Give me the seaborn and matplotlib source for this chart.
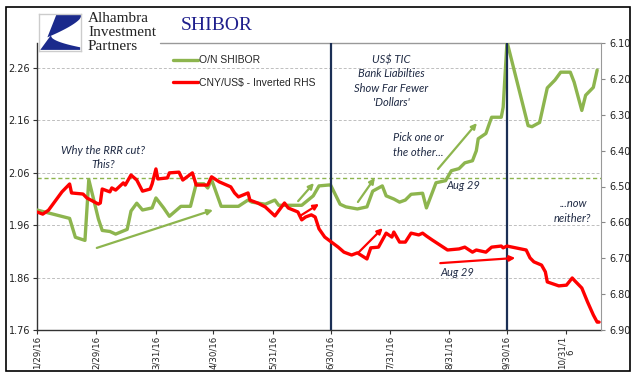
import matplotlib
matplotlib.use("Agg")
import matplotlib.pyplot as plt
import matplotlib.patches as mpatches
from matplotlib.lines import Line2D
import numpy as np
import pandas as pd
import seaborn as sns

# ──────────────────────────────────────────────
# Data
# ──────────────────────────────────────────────
shibor_dates = [
    "2016-01-29", "2016-02-15", "2016-02-18", "2016-02-23", "2016-02-25", "2016-03-01",
    "2016-03-03", "2016-03-07", "2016-03-10", "2016-03-16", "2016-03-18", "2016-03-21",
    "2016-03-24", "2016-03-29", "2016-03-31", "2016-04-04", "2016-04-07", "2016-04-13",
    "2016-04-18", "2016-04-21", "2016-04-25", "2016-04-27", "2016-04-29", "2016-05-04",
    "2016-05-13", "2016-05-18", "2016-05-20", "2016-05-27", "2016-06-01", "2016-06-03",
    "2016-06-15", "2016-06-21", "2016-06-24", "2016-06-30", "2016-07-05", "2016-07-08",
    "2016-07-14", "2016-07-19", "2016-07-22", "2016-07-27", "2016-07-29", "2016-08-02",
    "2016-08-05", "2016-08-08", "2016-08-11", "2016-08-17", "2016-08-19", "2016-08-24",
    "2016-08-29", "2016-09-01", "2016-09-05", "2016-09-08", "2016-09-12", "2016-09-14",
    "2016-09-15", "2016-09-19", "2016-09-21", "2016-09-22", "2016-09-27", "2016-09-28",
    "2016-09-30", "2016-10-11", "2016-10-13", "2016-10-17", "2016-10-21", "2016-10-25",
    "2016-10-28", "2016-11-02", "2016-11-04", "2016-11-08", "2016-11-10", "2016-11-14",
    "2016-11-16",
]
shibor_values = [
    1.989, 1.973, 1.937, 1.931, 2.047, 1.972,
    1.950, 1.948, 1.943, 1.952, 1.987, 2.002,
    1.989, 1.993, 2.012, 1.993, 1.977, 1.996,
    1.996, 2.039, 2.039, 2.031, 2.047, 1.996,
    1.996, 2.008, 2.004, 2.000, 2.008, 1.998,
    1.998, 2.016, 2.035, 2.037, 2.000, 1.995,
    1.991, 1.995, 2.025, 2.035, 2.016, 2.010,
    2.004, 2.008, 2.019, 2.021, 1.993, 2.041,
    2.045, 2.064, 2.068, 2.079, 2.083, 2.102,
    2.125, 2.135, 2.156, 2.166, 2.166, 2.185,
    2.310, 2.150, 2.148, 2.156, 2.222, 2.237,
    2.252, 2.252, 2.233, 2.179, 2.208, 2.223,
    2.256,
]

cny_dates = [
    "2016-01-29", "2016-02-01", "2016-02-04", "2016-02-11", "2016-02-15", "2016-02-16",
    "2016-02-22", "2016-02-24", "2016-03-01", "2016-03-02", "2016-03-03", "2016-03-07",
    "2016-03-08", "2016-03-10", "2016-03-14", "2016-03-15", "2016-03-18", "2016-03-21",
    "2016-03-24", "2016-03-28", "2016-03-29", "2016-03-31", "2016-04-01", "2016-04-06",
    "2016-04-07", "2016-04-12", "2016-04-14", "2016-04-19", "2016-04-21", "2016-04-27",
    "2016-04-29", "2016-05-03", "2016-05-09", "2016-05-11", "2016-05-13", "2016-05-18",
    "2016-05-19", "2016-05-23", "2016-05-27", "2016-06-01", "2016-06-06", "2016-06-08",
    "2016-06-13", "2016-06-15", "2016-06-17", "2016-06-20", "2016-06-22", "2016-06-24",
    "2016-06-27", "2016-06-29", "2016-07-01", "2016-07-04", "2016-07-07", "2016-07-11",
    "2016-07-14", "2016-07-19", "2016-07-21", "2016-07-25", "2016-07-29", "2016-08-01",
    "2016-08-02", "2016-08-05", "2016-08-08", "2016-08-11", "2016-08-15", "2016-08-17",
    "2016-08-19", "2016-08-22", "2016-08-26", "2016-08-30", "2016-09-05", "2016-09-08",
    "2016-09-12", "2016-09-14", "2016-09-19", "2016-09-22", "2016-09-27", "2016-09-28",
    "2016-09-30", "2016-10-10", "2016-10-12", "2016-10-14", "2016-10-18", "2016-10-20",
    "2016-10-21", "2016-10-27", "2016-10-31", "2016-11-03", "2016-11-04", "2016-11-08",
    "2016-11-11", "2016-11-14", "2016-11-16", "2016-11-17",
]
cny_values = [
    6.571, 6.577, 6.566, 6.515, 6.493, 6.518,
    6.521, 6.532, 6.549, 6.546, 6.507, 6.515,
    6.504, 6.510, 6.490, 6.496, 6.468, 6.482,
    6.513, 6.507, 6.493, 6.451, 6.479, 6.476,
    6.462, 6.460, 6.482, 6.462, 6.496, 6.496,
    6.473, 6.487, 6.501, 6.518, 6.529, 6.518,
    6.538, 6.546, 6.557, 6.582, 6.546, 6.560,
    6.571, 6.593, 6.585, 6.579, 6.585, 6.618,
    6.641, 6.649, 6.657, 6.669, 6.683, 6.691,
    6.685, 6.702, 6.671, 6.669, 6.630, 6.641,
    6.627, 6.655, 6.655, 6.630, 6.635, 6.630,
    6.638, 6.649, 6.663, 6.677, 6.674, 6.669,
    6.683, 6.677, 6.683, 6.669, 6.666, 6.671,
    6.666, 6.677, 6.699, 6.710, 6.719, 6.738,
    6.766, 6.777, 6.775, 6.755, 6.761, 6.783,
    6.822, 6.858, 6.878, 6.878,
]

tick_dates = ["2016-01-29", "2016-02-29", "2016-03-31", "2016-04-30", "2016-05-31",
              "2016-06-30", "2016-07-31", "2016-08-31", "2016-09-30", "2016-10-31"]
tick_labels = ["1/29/16", "2/29/16", "3/31/16", "4/30/16", "5/31/16",
               "6/30/16", "7/31/16", "8/31/16", "9/30/16", "10/31/1\n6"]
left_ticks = [1.76, 1.86, 1.96, 2.06, 2.16, 2.26]
right_ticks = [6.10, 6.20, 6.30, 6.40, 6.50, 6.60, 6.70, 6.80, 6.90]
event_dates = ["2016-06-30", "2016-09-30"]
rrr_level = 2.05

GREEN = "#8DB54E"
RED = "#FF0000"
NAVY = "#1B2F55"
TEXT = "#1F2A44"
LOGO_BLUE = "#1B2A8C"

shibor = pd.DataFrame({"date": pd.to_datetime(shibor_dates), "value": shibor_values})
cny = pd.DataFrame({"date": pd.to_datetime(cny_dates), "value": cny_values})

# ──────────────────────────────────────────────
# Figure
# ──────────────────────────────────────────────
sns.set_theme(style="white")
plt.rcParams["font.family"] = ["DejaVu Sans"]

fig = plt.figure(figsize=(6.4, 3.82), dpi=100)
ax = fig.add_axes([37 / 640, 1 - 330 / 382, 564 / 640, 287 / 382])
ax2 = ax.twinx()

ax.set_xlim(pd.Timestamp("2016-01-29"), pd.Timestamp("2016-11-18"))
ax.set_ylim(1.76, 2.3077)
ax2.set_ylim(6.90, 6.10)

for t in left_ticks[1:]:
    ax.axhline(t, color="#BFBFBF", lw=0.7, ls=(0, (3, 2)), zorder=0)
ax.axhline(rrr_level, color=GREEN, lw=1.0, ls=(0, (3, 2)), zorder=1)

sns.lineplot(data=shibor, x="date", y="value", ax=ax, color=GREEN, lw=2.4, zorder=3)
sns.lineplot(data=cny, x="date", y="value", ax=ax2, color=RED, lw=2.4, zorder=3)

for d in event_dates:
    ax.axvline(pd.Timestamp(d), color=NAVY, lw=1.6, zorder=4)

ax.set_xticks(pd.to_datetime(tick_dates))
ax.set_xticklabels(tick_labels, rotation=90, va="top", ha="center", fontsize=6.2,
                   color="#222222", linespacing=0.9)
ax.set_yticks(left_ticks)
ax.set_yticklabels([f"{v:.2f}" for v in left_ticks], fontsize=7, color="#222222")
ax2.set_yticks(right_ticks)
ax2.set_yticklabels([f"{v:.2f}" for v in right_ticks], fontsize=7, color="#222222")
ax.set_xlabel("")
ax.set_ylabel("")
ax2.set_ylabel("")

ax.tick_params(axis="y", direction="out", length=3, width=0.8, color="#333333", pad=2, left=True)
ax.tick_params(axis="x", direction="out", length=3, width=0.8, color="#333333", pad=1, bottom=True)
ax2.tick_params(axis="y", direction="out", length=3, width=0.8, color="#888888", pad=3, right=True)

for side in ["left", "bottom"]:
    ax.spines[side].set_color("#333333")
    ax.spines[side].set_linewidth(1.0)
ax.spines["right"].set_visible(False)
ax.spines["top"].set_visible(False)
ax2.spines["left"].set_visible(False)
ax2.spines["bottom"].set_visible(False)
ax2.spines["top"].set_visible(False)
ax2.spines["right"].set_color("#999999")
ax2.spines["right"].set_linewidth(0.8)
# top border only visible right of the logo
ax.axhline(2.3077, xmin=(160 - 37) / 564, xmax=1, color="#999999", lw=1.0, clip_on=False)

# legend
handles = [Line2D([], [], color=GREEN, lw=2.4), Line2D([], [], color=RED, lw=2.4)]
ax.legend(handles, ["O/N SHIBOR", "CNY/US$ - Inverted RHS"], loc="upper left",
          bbox_to_anchor=(0.232, 0.975), frameon=False, handlelength=2.4,
          handletextpad=0.1, labelspacing=1.2, borderpad=0,
          prop={"family": "Liberation Sans", "size": 7.5})

# annotations
note = dict(fontsize=8, style="italic", color=TEXT, family="Lato", transform=ax.transAxes)
ax.text(0.117, 0.627, "Why the RRR cut?", ha="center", va="center", **note)
ax.text(0.117, 0.575, "This?", ha="center", va="center", **note)
for yy, s in zip([0.941, 0.892, 0.840, 0.791],
                 ["US$ TIC", "Bank Liabilties", "Show Far Fewer", "'Dollars'"]):
    ax.text(0.628, yy, s, ha="center", va="center", **note)
ax.text(0.631, 0.672, "Pick one or", ha="left", va="center", **note)
ax.text(0.631, 0.617, "the other...", ha="left", va="center", **note)
ax.text(0.725, 0.505, "Aug 29", ha="left", va="center", **note)
ax.text(0.715, 0.199, "Aug 29", ha="left", va="center", **note)
ax.text(0.952, 0.442, "...now", ha="center", va="center", **note)
ax.text(0.950, 0.390, "neither?", ha="center", va="center", **note)

arrows = [
    ((0.106, 0.286), (0.312, 0.418), GREEN),
    ((0.463, 0.449), (0.491, 0.512), GREEN),
    ((0.466, 0.397), (0.500, 0.439), RED),
    ((0.569, 0.446), (0.599, 0.530), GREEN),
    ((0.711, 0.561), (0.780, 0.721), GREEN),
    ((0.569, 0.268), (0.613, 0.355), RED),
    ((0.715, 0.233), (0.848, 0.251), RED),
]
for start, end, col in arrows:
    ax.annotate("", xy=end, xytext=start, xycoords="axes fraction", textcoords="axes fraction",
                arrowprops=dict(arrowstyle="-|>", color=col, lw=1.6, mutation_scale=8,
                                shrinkA=0, shrinkB=0), zorder=5)

# logo block
logo = fig.add_axes([39 / 640, 1 - 51 / 382, 42 / 640, 37 / 382])
logo.set_xlim(0, 1)
logo.set_ylim(0, 1)
logo.set_xticks([])
logo.set_yticks([])
for sp in logo.spines.values():
    sp.set_color("#CCCCCC")
    sp.set_linewidth(1.0)
tt = np.linspace(0, 1, 24)
upper_curve = [[1.0 - 0.8 * t, 0.92 - 0.55 * t ** 0.7] for t in tt]
logo.add_patch(mpatches.Polygon([[0.42, 1.0], [1.0, 1.0]] + upper_curve, color=LOGO_BLUE, lw=0))
lower_curve = [[0.28 + 0.7 * t, 0.42 - 0.32 * t ** 0.5] for t in tt]
logo.add_patch(mpatches.Polygon([[0.03, 0.03]] + lower_curve + [[0.98, 0.03]],
                                color=LOGO_BLUE, lw=0))
for yy, s in zip([18, 32, 46], ["Alhambra", "Investment", "Partners"]):
    fig.text(88 / 640, 1 - yy / 382, s, fontsize=11, family="Liberation Serif",
             color="#222222", va="center", ha="left")
fig.text(181 / 640, 1 - 25 / 382, "SHIBOR", fontsize=14, family="Liberation Serif",
         color="#1F1F8C", va="center", ha="left")

# outer frame
fig.patches.append(mpatches.Rectangle((6 / 640, 1 - 371 / 382), 624 / 640, 364 / 382,
                                      transform=fig.transFigure, fill=False,
                                      edgecolor="black", lw=1.2))

fig.savefig("out.png", dpi=100)
